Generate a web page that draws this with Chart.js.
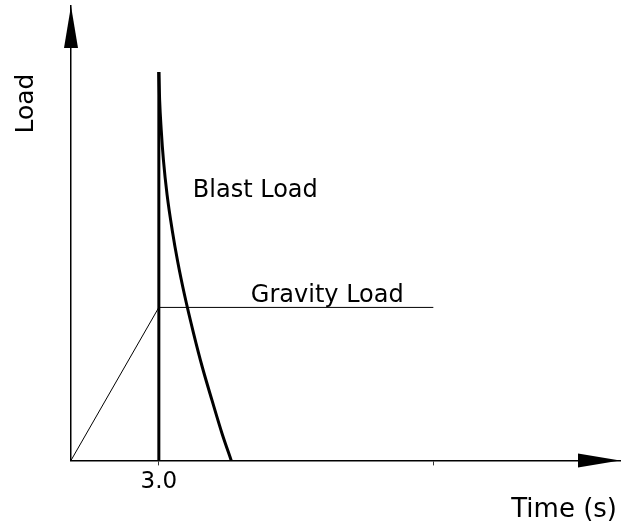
<!DOCTYPE html>
<html>
<head>
<meta charset="utf-8">
<script src="https://cdn.jsdelivr.net/npm/chart.js@4/dist/chart.umd.min.js"></script>
<style>
  html, body { margin: 0; padding: 0; background: #fff; }
  #wrap { width: 623px; height: 523px; }
</style>
</head>
<body>
<div id="wrap"><canvas id="c" width="623" height="523"></canvas></div>
<script>
// ---- data ----
// blast load: instantaneous rise at t = 3.0, then decay
const blastRiseTime = [3.0, 3.0];
const blastRiseLoad = [0.0, 2.564];
const blastTime  = [3.0, 3.027, 3.082, 3.157, 3.283, 3.457, 3.648, 3.880, 4.186, 4.486, 4.817, 5.158, 5.472];
const blastLoad  = [2.564, 2.379, 2.181, 1.982, 1.751, 1.520, 1.308, 1.090, 0.839, 0.615, 0.396, 0.178, 0.0];
const gravityTime = [0, 3.0, 12.375];
const gravityLoad = [0, 1.01, 1.01];
const xTickValues = [3.0, 12.375];
const xTickLabels = ['3.0', ''];
const axisTitles = { x: 'Time (s)', y: 'Load' };
const seriesLabels = { blast: 'Blast Load', gravity: 'Gravity Load' };

const FONT = 'DejaVu Sans';

const toPts = (xs, ys) => xs.map((x, i) => ({ x, y: ys[i] }));

const decorPlugin = {
  id: 'decor',
  afterDraw(chart) {
    const ctx = chart.ctx;
    const a = chart.chartArea;
    const xs = chart.scales.x, ys = chart.scales.y;
    const y0 = ys.getPixelForValue(0);
    const x0 = xs.getPixelForValue(0);
    ctx.save();
    ctx.fillStyle = '#000';
    // x arrowhead
    ctx.beginPath();
    ctx.moveTo(a.right, y0);
    ctx.lineTo(a.right - 42, y0 - 7);
    ctx.lineTo(a.right - 42, y0 + 7);
    ctx.closePath();
    ctx.fill();
    // y arrowhead
    ctx.beginPath();
    ctx.moveTo(x0, a.top);
    ctx.lineTo(x0 - 7, a.top + 42);
    ctx.lineTo(x0 + 7, a.top + 42);
    ctx.closePath();
    ctx.fill();

    // texts
    ctx.textBaseline = 'alphabetic';
    ctx.textAlign = 'left';
    ctx.font = '24px "' + FONT + '"';
    const xb = xs.getPixelForValue(3.0);
    ctx.fillText(seriesLabels.blast, xb + 34, 197);
    ctx.fillText(seriesLabels.gravity, xb + 92, ys.getPixelForValue(gravityLoad[1]) - 5);
    ctx.font = '26px "' + FONT + '"';
    ctx.textAlign = 'right';
    ctx.fillText(axisTitles.x, a.right - 3, 517);
    // y title rotated
    ctx.translate(33, 103.5);
    ctx.rotate(-Math.PI / 2);
    ctx.textAlign = 'center';
    ctx.font = '25px "' + FONT + '"';
    ctx.fillText(axisTitles.y, 0, 0);
    ctx.restore();
  }
};

const lineStyle = { showLine: true, borderColor: '#000', pointRadius: 0, clip: false };

new Chart(document.getElementById('c'), {
  type: 'scatter',
  data: {
    datasets: [
      Object.assign({
        label: seriesLabels.gravity,
        data: toPts(gravityTime, gravityLoad),
        borderWidth: 1,
        tension: 0
      }, lineStyle),
      Object.assign({
        label: seriesLabels.blast,
        data: toPts(blastRiseTime, blastRiseLoad),
        borderWidth: 3,
        tension: 0
      }, lineStyle),
      Object.assign({
        label: seriesLabels.blast,
        data: toPts(blastTime, blastLoad),
        borderWidth: 3,
        cubicInterpolationMode: 'monotone'
      }, lineStyle)
    ]
  },
  options: {
    responsive: false,
    animation: false,
    devicePixelRatio: 1,
    layout: { padding: { left: 63, top: 6, right: 3, bottom: 24 } },
    plugins: { legend: { display: false }, tooltip: { enabled: false } },
    scales: {
      x: {
        type: 'linear',
        min: 0,
        max: 18.75,
        afterBuildTicks: (s) => { s.ticks = xTickValues.map(v => ({ value: v })); },
        ticks: {
          autoSkip: false,
          maxRotation: 0,
          padding: 3,
          color: '#000',
          font: { family: FONT, size: 23 },
          callback: (v) => { const i = xTickValues.indexOf(v); return i >= 0 ? xTickLabels[i] : ''; }
        },
        grid: { display: true, drawOnChartArea: false, drawTicks: true, tickLength: 5, color: '#333', lineWidth: 1 },
        border: { display: true, color: '#000', width: 1.5 }
      },
      y: {
        type: 'linear',
        min: 0,
        max: 3.0,
        ticks: { display: false },
        grid: { display: false },
        border: { display: true, color: '#000', width: 1.5 }
      }
    }
  },
  plugins: [decorPlugin]
});
</script>
</body>
</html>
